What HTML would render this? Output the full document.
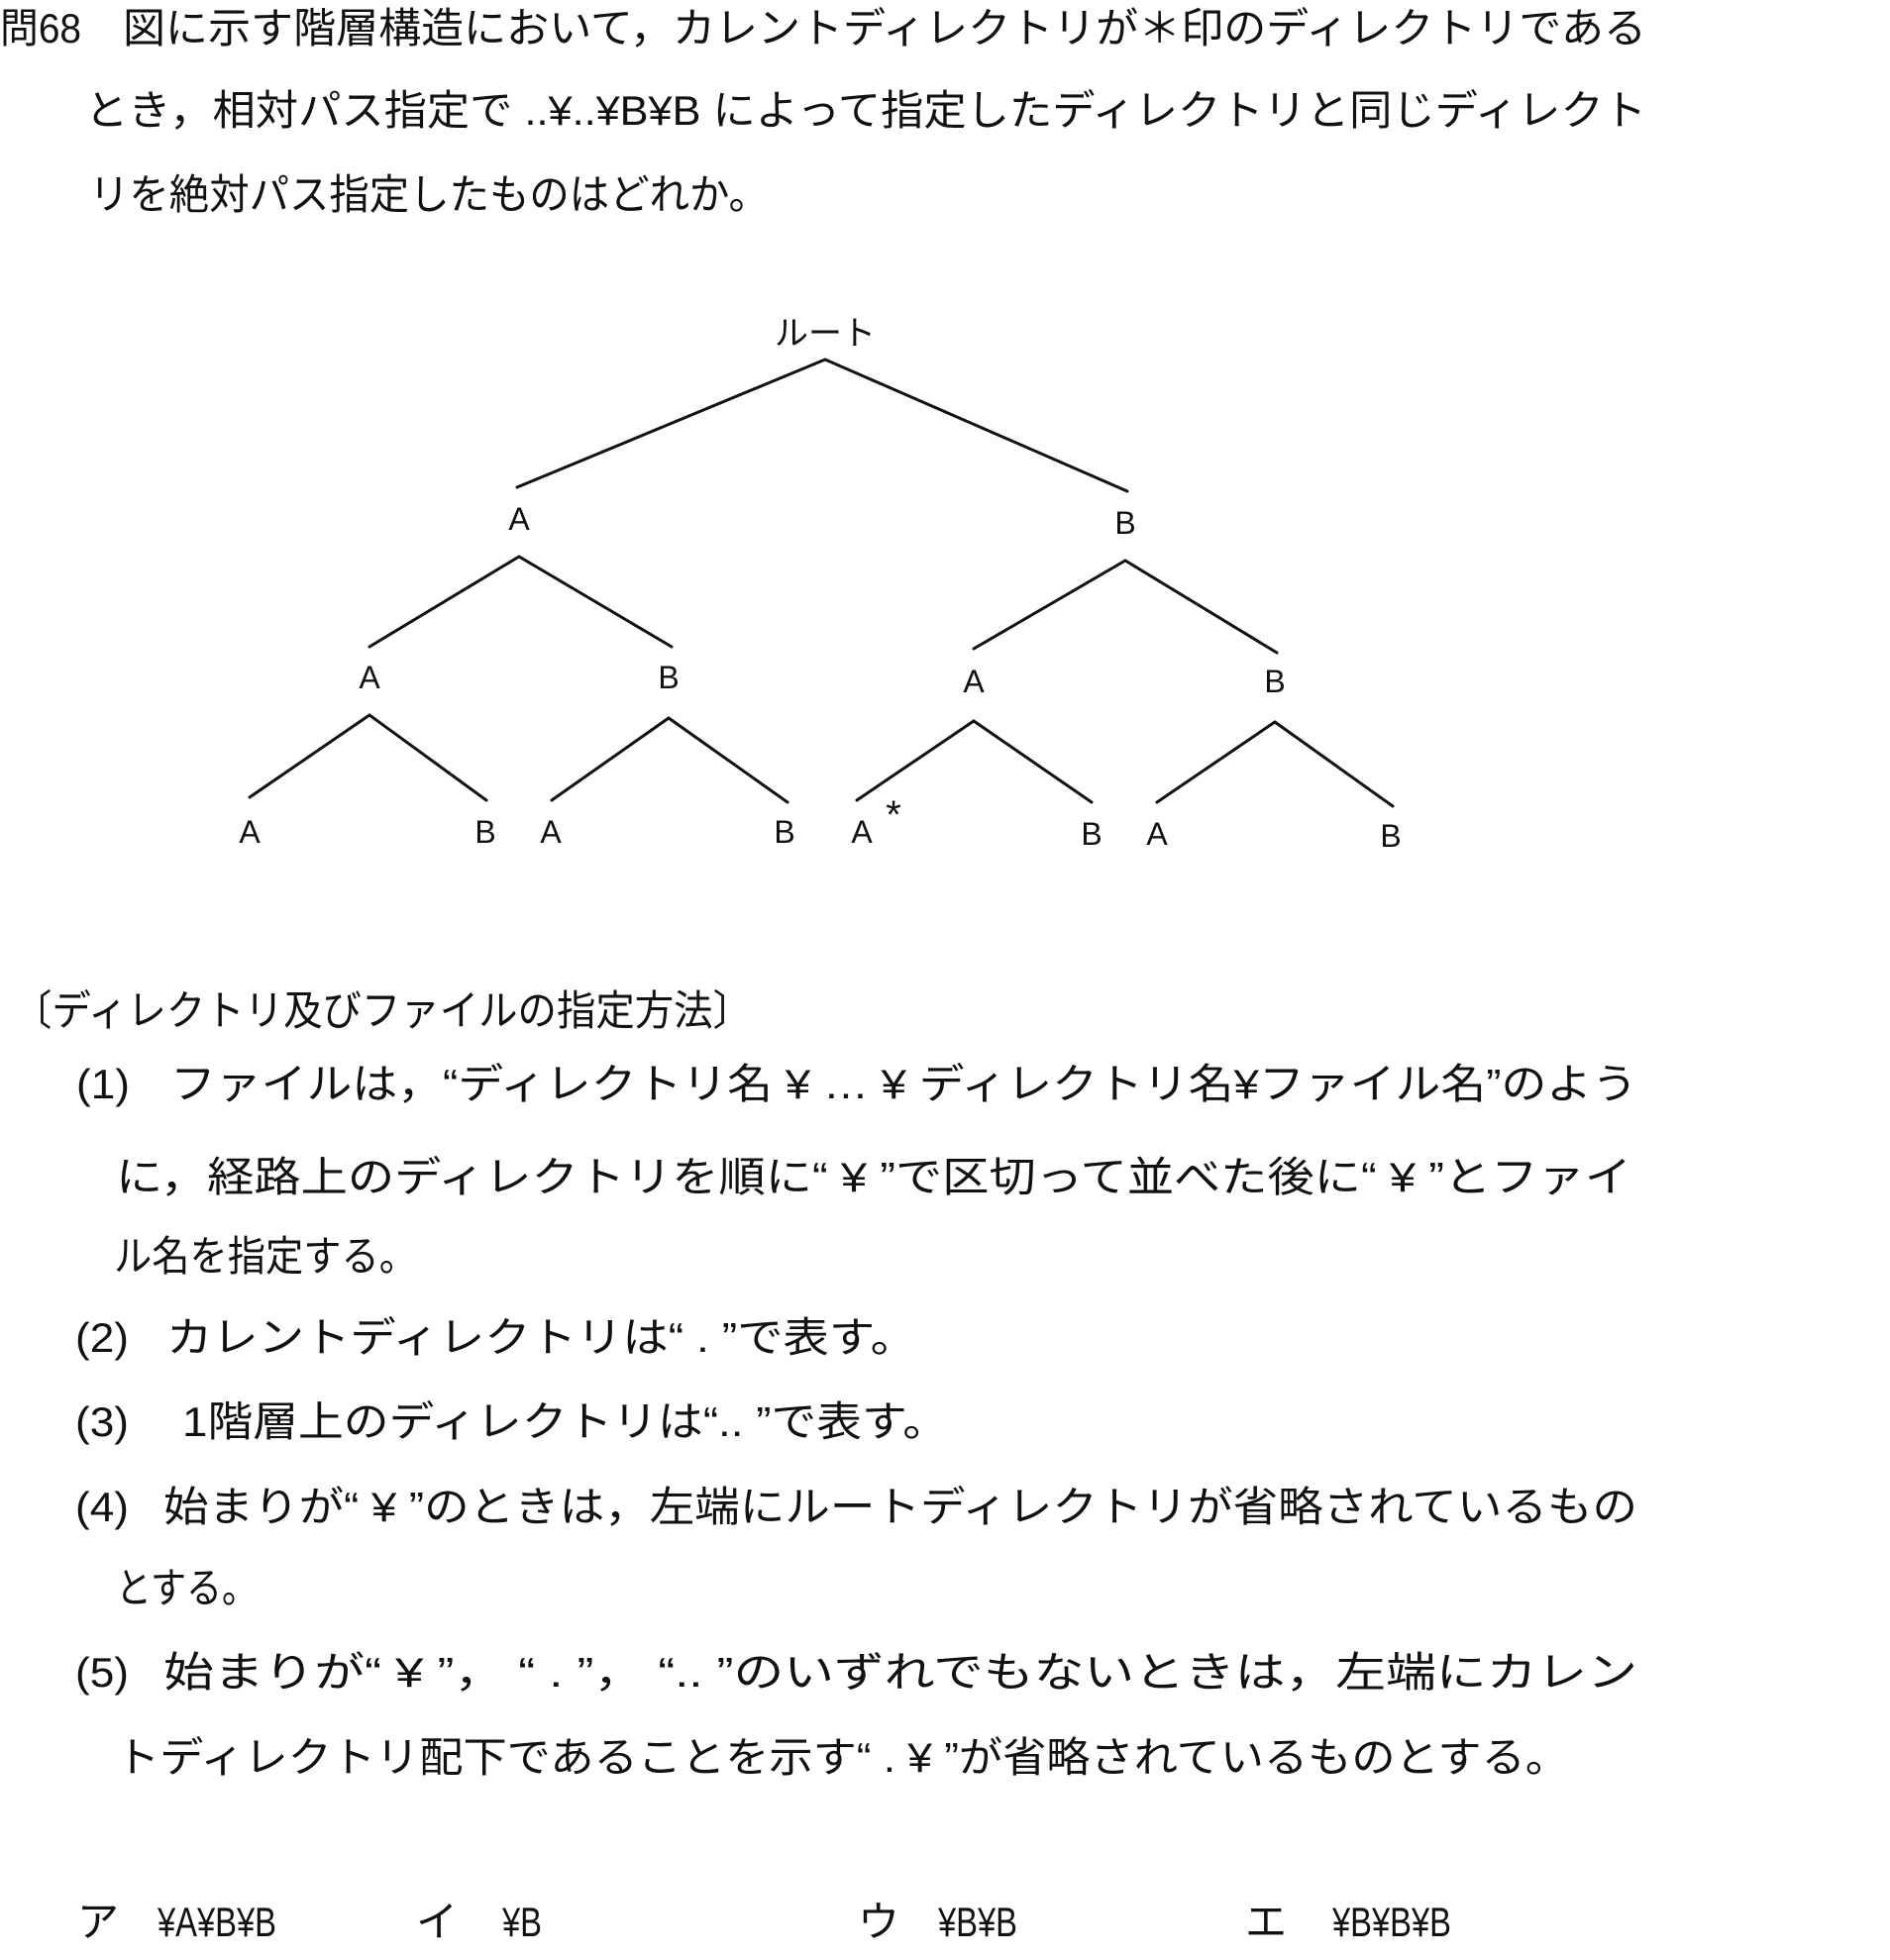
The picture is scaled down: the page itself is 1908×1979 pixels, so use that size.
<!DOCTYPE html>
<html><head><meta charset="utf-8">
<style>
html,body{margin:0;padding:0;background:#fff;}
svg{display:block;}
text{font-family:"Liberation Sans","Noto Sans CJK JP",sans-serif;fill:#111;}
.t{font-size:42px;}
.l{font-size:32px;}
</style></head><body>
<svg width="1908" height="1979" viewBox="0 0 1908 1979" xmlns="http://www.w3.org/2000/svg">
<g class="t">
<text x="0" y="43" textLength="82" lengthAdjust="spacingAndGlyphs">問68</text>
<text x="124" y="43" textLength="1538" lengthAdjust="spacingAndGlyphs">図に示す階層構造において，カレントディレクトリが＊印のディレクトリである</text>
<text x="86" y="126" textLength="1576" lengthAdjust="spacingAndGlyphs">とき，相対パス指定で ..¥..¥B¥B によって指定したディレクトリと同じディレクト</text>
<text x="90" y="211" textLength="686" lengthAdjust="spacingAndGlyphs">リを絶対パス指定したものはどれか。</text>

<text x="13" y="1035" textLength="746" lengthAdjust="spacingAndGlyphs">〔ディレクトリ及びファイルの指定方法〕</text>
<text x="77" y="1109" textLength="54" lengthAdjust="spacingAndGlyphs">(1)</text>
<text x="172" y="1109" textLength="1481" lengthAdjust="spacingAndGlyphs">ファイルは，“ディレクトリ名 ¥  …  ¥ ディレクトリ名¥ファイル名”のよう</text>
<text x="117" y="1203" textLength="1530" lengthAdjust="spacingAndGlyphs">に，経路上のディレクトリを順に“ ¥ ”で区切って並べた後に“ ¥ ”とファイ</text>
<text x="115" y="1283" textLength="306" lengthAdjust="spacingAndGlyphs">ル名を指定する。</text>
<text x="76" y="1365" textLength="54" lengthAdjust="spacingAndGlyphs">(2)</text>
<text x="168" y="1365" textLength="757" lengthAdjust="spacingAndGlyphs">カレントディレクトリは“ . ”で表す。</text>
<text x="76" y="1450" textLength="54" lengthAdjust="spacingAndGlyphs">(3)</text>
<text x="184" y="1450" textLength="773" lengthAdjust="spacingAndGlyphs">1階層上のディレクトリは“.. ”で表す。</text>
<text x="76" y="1536" textLength="54" lengthAdjust="spacingAndGlyphs">(4)</text>
<text x="165" y="1536" textLength="1488" lengthAdjust="spacingAndGlyphs">始まりが“ ¥ ”のときは，左端にルートディレクトリが省略されているもの</text>
<text x="117" y="1618" textLength="143" lengthAdjust="spacingAndGlyphs">とする。</text>
<text x="76" y="1703" textLength="54" lengthAdjust="spacingAndGlyphs">(5)</text>
<text x="165" y="1703" textLength="1488" lengthAdjust="spacingAndGlyphs">始まりが“ ¥ ”，  “ . ”，  “.. ”のいずれでもないときは，左端にカレン</text>
<text x="117" y="1789" textLength="1467" lengthAdjust="spacingAndGlyphs">トディレクトリ配下であることを示す“ . ¥ ”が省略されているものとする。</text>

<text x="78" y="1955">ア</text>
<text x="159" y="1955" textLength="120" lengthAdjust="spacingAndGlyphs">¥A¥B¥B</text>
<text x="420" y="1955">イ</text>
<text x="507" y="1955" textLength="40" lengthAdjust="spacingAndGlyphs">¥B</text>
<text x="866" y="1955">ウ</text>
<text x="947" y="1955" textLength="80" lengthAdjust="spacingAndGlyphs">¥B¥B</text>
<text x="1257" y="1955">エ</text>
<text x="1345" y="1955" textLength="120" lengthAdjust="spacingAndGlyphs">¥B¥B¥B</text>
</g>

<g stroke="#111" stroke-width="3" fill="none" stroke-linecap="round">
<polyline points="522,492 833,363 1138,496"/>
<polyline points="373,653 524,562 678,653"/>
<polyline points="983,655 1136,566 1289,659"/>
<polyline points="252,805 373,722 491,808"/>
<polyline points="557,808 675,725 795,810"/>
<polyline points="865,808 983,728 1102,810"/>
<polyline points="1168,810 1287,729 1406,814"/>
</g>
<g class="l" text-anchor="middle">
<text x="833" y="348" style="font-size:34px">ルート</text>
<text x="524" y="535">A</text>
<text x="1136" y="539">B</text>
<text x="373" y="695">A</text>
<text x="675" y="695">B</text>
<text x="983" y="699">A</text>
<text x="1287" y="699">B</text>
<text x="252" y="851">A</text>
<text x="490" y="851">B</text>
<text x="556" y="851">A</text>
<text x="792" y="851">B</text>
<text x="870" y="851">A</text>
<text x="902" y="836" style="font-size:40px">*</text>
<text x="1102" y="853">B</text>
<text x="1168" y="853">A</text>
<text x="1404" y="855">B</text>
</g>
</svg>
</body></html>
